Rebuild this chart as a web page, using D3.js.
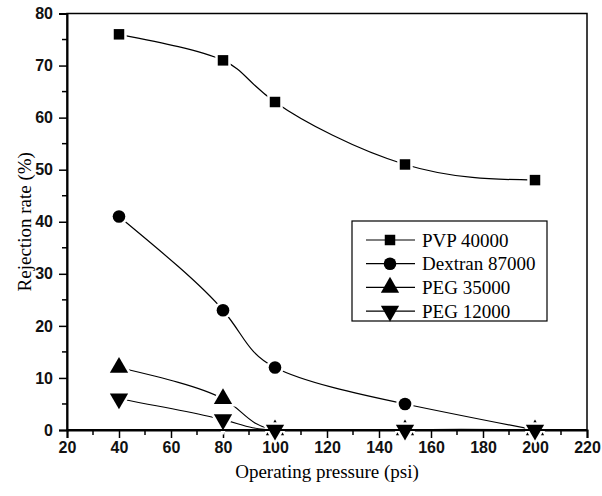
<!DOCTYPE html>
<html>
<head>
<meta charset="utf-8">
<script src="https://cdn.jsdelivr.net/npm/d3@7"></script>
<style>
body { margin: 0; background: #fff; }
</style>
</head>
<body>
<svg id="chart"></svg>
<script>
var pressure = [40, 80, 100, 150, 200];
var seriesNames = ["PVP 40000", "Dextran 87000", "PEG 35000", "PEG 12000"];
var pvp40000 = [76, 71, 63, 51, 48];
var dextran87000 = [41, 23, 12, 5, 0];
var peg35000 = [12, 6, 0, 0, 0];
var peg12000 = [6, 2, 0, 0, 0];
var xTicks = [20, 40, 60, 80, 100, 120, 140, 160, 180, 200, 220];
var yTicks = [0, 10, 20, 30, 40, 50, 60, 70, 80];

var allSeries = [pvp40000, dextran87000, peg35000, peg12000];
var symbols = [d3.symbolSquare, d3.symbolCircle, d3.symbolTriangle, "down"];
var symSizes = [110, 125, 145, 145];

var svg = d3.select("#chart").attr("width", 602).attr("height", 496),
    margin = {top: 13.5, right: 15, bottom: 66, left: 67},
    width = +svg.attr("width") - margin.left - margin.right,
    height = +svg.attr("height") - margin.top - margin.bottom;

var x = d3.scaleLinear().domain([20, 220]).range([0, width]);
var y = d3.scaleLinear().domain([0, 80]).range([height, 0]);

var g = svg.append("g")
	.attr("transform", "translate(" + margin.left + "," + margin.top + ")");

svg.append("defs").append("clipPath")
	.attr("id", "clip")
	.append("rect")
	.attr("width", width)
	.attr("height", height);

// frame
g.append("rect")
	.attr("width", width)
	.attr("height", height)
	.attr("fill", "none")
	.attr("stroke", "#000")
	.attr("stroke-width", 1.5);

// minor ticks
var xMinor = d3.range(30, 220, 20);
var yMinor = d3.range(5, 80, 10);

g.append("g").selectAll("line")
	.data(xMinor)
	.enter().append("line")
	.attr("x1", function(d){ return x(d); })
	.attr("x2", function(d){ return x(d); })
	.attr("y1", height)
	.attr("y2", height + 5)
	.attr("stroke", "#000")
	.attr("stroke-width", 1.5);

g.append("g").selectAll("line")
	.data(yMinor)
	.enter().append("line")
	.attr("y1", function(d){ return y(d); })
	.attr("y2", function(d){ return y(d); })
	.attr("x1", 0)
	.attr("x2", -5)
	.attr("stroke", "#000")
	.attr("stroke-width", 1.5);

var xAxis = g.append("g")
	.attr("transform", "translate(0," + height + ")")
	.call(d3.axisBottom(x).tickValues(xTicks).tickSize(8).tickPadding(4));

var yAxis = g.append("g")
	.call(d3.axisLeft(y).tickValues(yTicks).tickSize(8).tickPadding(6));

[xAxis, yAxis].forEach(function(a){
	a.select(".domain").attr("stroke-width", 2);
	a.selectAll(".tick line").attr("stroke-width", 1.5);
	a.selectAll("text")
		.attr("font-family", "'Liberation Sans', Arial, sans-serif")
		.attr("font-size", 16)
		.attr("font-weight", "bold")
		.attr("fill", "#111");
});

// curves
var line = d3.line()
	.x(function(d, i){ return x(pressure[i]); })
	.y(function(d){ return y(d); })
	.curve(d3.curveNatural);

var curves = g.append("g").attr("clip-path", "url(#clip)");

curves.selectAll("path")
	.data(allSeries)
	.enter().append("path")
	.attr("d", line)
	.attr("fill", "none")
	.attr("stroke", "#000")
	.attr("stroke-width", 1.2);

function markerPath(k) {
	if (symbols[k] == "down")
		return d3.symbol().type(d3.symbolTriangle).size(symSizes[k])();
	return d3.symbol().type(symbols[k]).size(symSizes[k])();
}

allSeries.forEach(function(s, k){
	g.append("g").selectAll("path")
		.data(s)
		.enter().append("path")
		.attr("d", markerPath(k))
		.attr("transform", function(d, i){
			return "translate(" + x(pressure[i]) + "," + y(d) + ")" + (symbols[k] == "down" ? " rotate(180)" : "");
		})
		.attr("fill", "#000")
		.attr("stroke", "#fff")
		.attr("stroke-width", 5)
		.style("paint-order", "stroke");
});

// redraw bottom axis line over the white halos
g.append("line")
	.attr("x1", 0).attr("x2", width)
	.attr("y1", height).attr("y2", height)
	.attr("stroke", "#000")
	.attr("stroke-width", 2);

// axis titles
svg.append("text")
	.attr("x", margin.left + width / 2)
	.attr("y", 478)
	.attr("text-anchor", "middle")
	.attr("font-family", "'Liberation Serif', 'Times New Roman', serif")
	.attr("font-size", 19)
	.text("Operating pressure (psi)");

svg.append("text")
	.attr("transform", "translate(31," + (margin.top + height / 2) + ") rotate(-90)")
	.attr("text-anchor", "middle")
	.attr("font-family", "'Liberation Serif', 'Times New Roman', serif")
	.attr("font-size", 19)
	.text("Rejection rate (%)");

// legend
var legend = svg.append("g").attr("transform", "translate(352,221)");

legend.append("rect")
	.attr("width", 195)
	.attr("height", 100)
	.attr("fill", "#fff")
	.attr("stroke", "#000")
	.attr("stroke-width", 1.2);

var items = legend.selectAll(".item")
	.data(seriesNames)
	.enter().append("g")
	.attr("class", "item")
	.attr("transform", function(d, i){ return "translate(0," + (19 + i * 23.7) + ")"; });

items.append("line")
	.attr("x1", 14)
	.attr("x2", 63)
	.attr("stroke", "#000")
	.attr("stroke-width", 1.2);

items.append("path")
	.attr("d", function(d, i){ return markerPath(i); })
	.attr("transform", function(d, i){ return "translate(38,0)" + (symbols[i] == "down" ? " rotate(180)" : ""); })
	.attr("fill", "#000");

items.append("text")
	.attr("x", 70)
	.attr("y", 6.5)
	.attr("font-family", "'Liberation Serif', 'Times New Roman', serif")
	.attr("font-size", 19)
	.text(function(d){ return d; });
</script>
</body>
</html>
